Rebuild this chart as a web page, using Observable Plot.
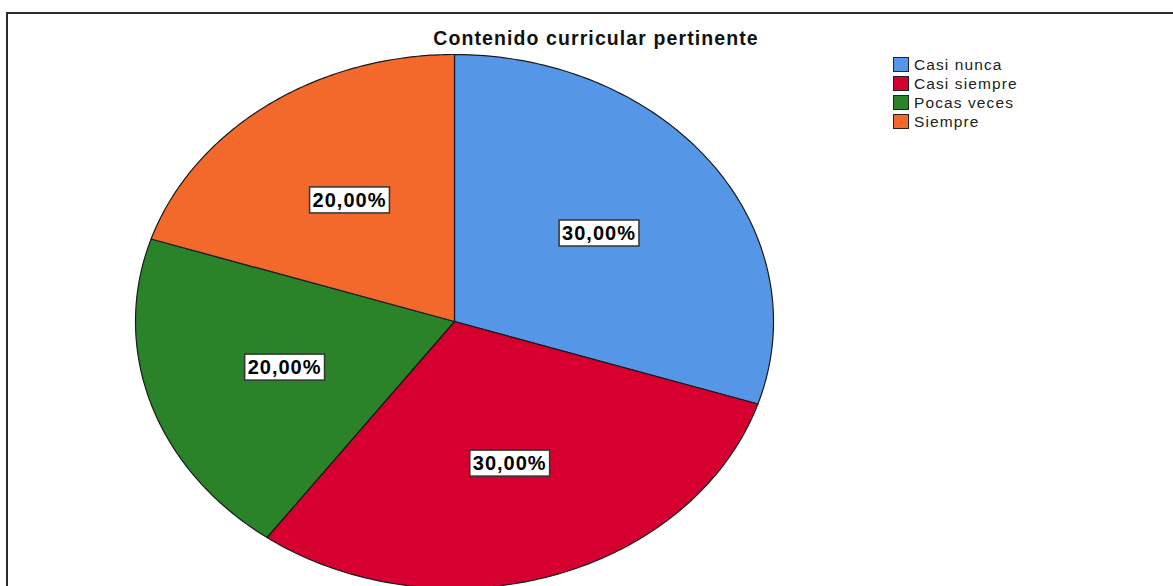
<!DOCTYPE html>
<html><head><meta charset="utf-8">
<script src="https://cdn.jsdelivr.net/npm/d3@7"></script>
<script src="https://cdn.jsdelivr.net/npm/@observablehq/plot@0.6"></script>
<style>
html,body{margin:0;padding:0;background:#fff;overflow:hidden;}
#wrap{position:relative;width:1173px;height:586px;overflow:hidden;background:#fff;}
#frame{position:absolute;left:6px;top:12px;width:1400px;height:900px;border:2px solid #2b2b2b;box-sizing:border-box;}
#title{position:absolute;left:0;width:1192px;top:27px;text-align:center;font:bold 19.5px "Liberation Sans",Arial,sans-serif;letter-spacing:1.1px;color:#111;}
#legend{position:absolute;left:893px;top:57px;font:15.5px "Liberation Sans",Arial,sans-serif;letter-spacing:1.1px;color:#222;}
.row{height:19px;display:flex;align-items:flex-start;}
.sw{width:16px;height:15px;border:1px solid #222;box-sizing:border-box;margin-right:5px;margin-top:0px;}
.row span{line-height:15px;margin-top:0px;}
#chart{position:absolute;left:0;top:0;}
</style>
</head><body>
<div id="wrap">
  <div id="frame"></div>
  <div id="chart"></div>
  <div id="title"></div>
  <div id="legend"></div>
</div>
<script>
const chartTitle = "Contenido curricular pertinente";
const categories = ["Casi nunca", "Casi siempre", "Pocas veces", "Siempre"];
const percentages = [30, 30, 20, 20];
const labelTexts = ["30,00%", "30,00%", "20,00%", "20,00%"];
const colors = ["#5596e6", "#d5002f", "#2a8329", "#f2692b"];

document.getElementById("title").textContent = chartTitle;
const legend = document.getElementById("legend");
categories.forEach((c, i) => {
  const row = document.createElement("div");
  row.className = "row";
  const sw = document.createElement("div");
  sw.className = "sw";
  sw.style.background = colors[i];
  const t = document.createElement("span");
  t.textContent = c;
  row.appendChild(sw); row.appendChild(t);
  legend.appendChild(row);
});

const arcs = d3.pie().sort(null).value(d => d)(percentages);
const slicePts = [];
arcs.forEach((a, i) => {
  const cat = categories[i];
  slicePts.push({x: 0, y: 0, cat});
  const n = 120;
  for (let k = 0; k <= n; k++) {
    const t = a.startAngle + (a.endAngle - a.startAngle) * k / n;
    slicePts.push({x: Math.sin(t), y: Math.cos(t), cat});
  }
  slicePts.push({x: 0, y: 0, cat});
});
const labelR = 0.56;
const labels = arcs.map((a, i) => {
  const m = (a.startAngle + a.endAngle) / 2;
  return {x: labelR * Math.sin(m), y: labelR * Math.cos(m), text: labelTexts[i]};
});

const plot = Plot.plot({
  width: 1173, height: 586, margin: 0,
  x: {domain: [-1, 1], range: [135, 773], axis: null},
  y: {domain: [-1, 1], range: [588, 54], axis: null},
  color: {domain: categories, range: colors},
  style: {background: "transparent", fontFamily: "'Liberation Sans', Arial, sans-serif"},
  marks: [
    Plot.line(slicePts, {x: "x", y: "y", z: "cat", fill: "cat", stroke: "#1a1a1a", strokeWidth: 1.2, curve: "linear"}),
    Plot.text(labels, {x: "x", y: "y", text: "text", fontSize: 20, fontWeight: "bold", fill: "#000"})
  ]
});
document.getElementById("chart").appendChild(plot);

// white boxes behind labels
plot.querySelectorAll('g[aria-label="text"] text').forEach(tx => {
  tx.style.letterSpacing = "1px";
  const bb = tx.getBBox();
  const r = document.createElementNS("http://www.w3.org/2000/svg", "rect");
  r.setAttribute("x", bb.x - 3);
  r.setAttribute("y", bb.y - 2);
  r.setAttribute("width", bb.width + 6);
  r.setAttribute("height", bb.height + 4);
  r.setAttribute("fill", "#fff");
  r.setAttribute("stroke", "#333");
  r.setAttribute("stroke-width", "1.5");
  if (tx.getAttribute("transform")) r.setAttribute("transform", tx.getAttribute("transform"));
  tx.parentNode.insertBefore(r, tx);
});
</script>
</body></html>
